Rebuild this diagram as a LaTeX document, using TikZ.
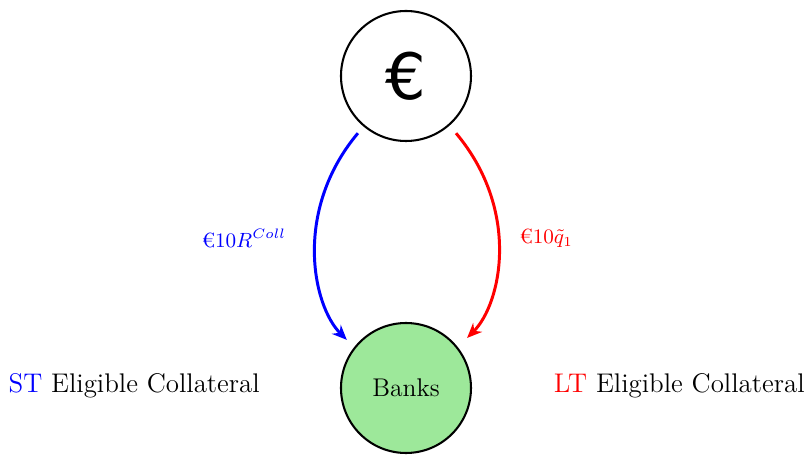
\documentclass[tikz,border=0pt]{standalone}
\usepackage{fontspec}
\newfontfamily\eurofont{DejaVu Sans}
\usetikzlibrary{arrows.meta}
\definecolor{bankgreen}{RGB}{157,232,154}
\tikzset{
  circ/.style={circle, draw=black, line width=0.9pt, minimum size=2cm, inner sep=0pt},
  flow/.style={line width=1.3pt, -{Stealth[length=6.5pt,width=5.5pt]}},
  lbl/.style={font=\fontsize{9}{11}\selectfont, inner sep=0pt},
  side/.style={font=\fontsize{11.8}{14}\selectfont, inner sep=0pt}
}
\begin{document}
\begin{tikzpicture}
\useasboundingbox (-6.246,-1.031) rectangle (6.2,5.969);
\node[circ] (euro) at (0,4.8) {\eurofont\fontsize{28}{28}\selectfont €};
\node[circ, fill=bankgreen] (banks) at (0,0) {\fontsize{11.2}{14}\selectfont Banks};
\coordinate (bs) at (-0.74,3.92);
\coordinate (be) at (-0.91,0.74);
\coordinate (rs) at (0.77,3.92);
\coordinate (re) at (0.94,0.77);
\draw[flow, blue] (bs) .. controls (-1.736,2.733) and (-1.44,1.27) .. (be);
\draw[flow, red] (rs) .. controls (1.766,2.733) and (1.47,1.30) .. (re);
\node[lbl, blue, anchor=east] (bl) at (-1.84,2.3) {€$10R^{Coll}$};
\node[lbl, red, anchor=west] (rl) at (1.74,2.3) {€$10\tilde{q}_1$};
\node[side, anchor=west] (st) at (-6.12,0.03) {\textcolor{blue}{ST} Eligible Collateral};
\node[side, anchor=east] (lt) at (6.14,0.03) {\textcolor{red}{LT} Eligible Collateral};
\end{tikzpicture}
\end{document}
